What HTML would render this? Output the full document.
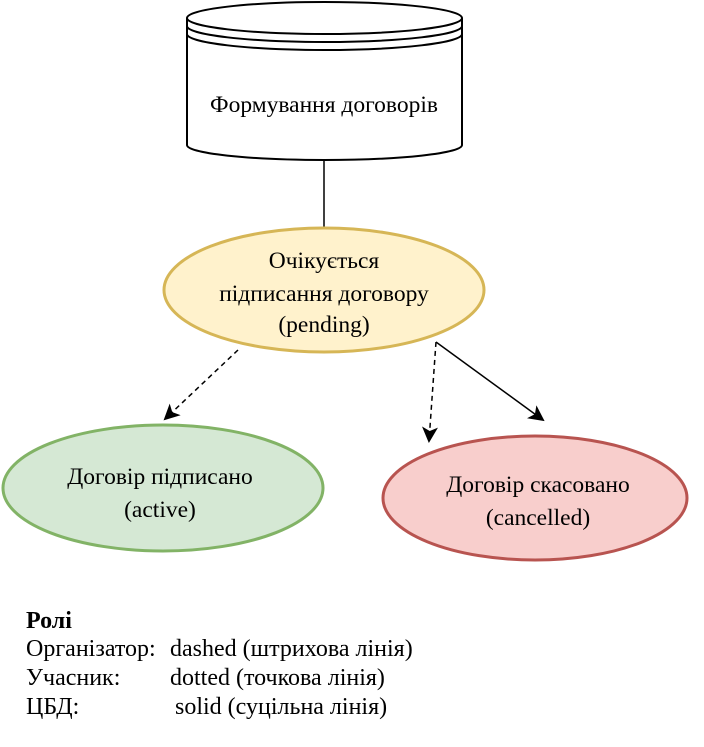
<!DOCTYPE html>
<html><head><meta charset="utf-8"><style>
body{margin:0;background:#fff;}
svg text{font-family:"Liberation Serif",serif;font-size:23.5px;fill:#000;}
svg text.l{font-size:24px;}
</style></head><body>
<svg width="704" height="742" xmlns="http://www.w3.org/2000/svg">
<defs>
<marker id="b" markerWidth="16" markerHeight="16" refX="14" refY="8" orient="auto" markerUnits="userSpaceOnUse"><path d="M0,0 L16,8 L0,16 L4,8 Z" fill="#000"/></marker>
</defs>
<path d="M187,18 L187,145 A137.5,15 0 0 0 462,145 L462,18" fill="#fff" stroke="#000" stroke-width="2"/>
<ellipse cx="324.5" cy="18" rx="137.5" ry="16" fill="#fff" stroke="#000" stroke-width="2"/>
<path d="M187,26 A137.5,16 0 0 0 462,26 M187,34 A137.5,16 0 0 0 462,34" fill="none" stroke="#000" stroke-width="2"/>
<text x="324" y="112" text-anchor="middle">Формування договорів</text>
<line x1="324" y1="161" x2="324" y2="228" stroke="#000" stroke-width="1.5"/>
<ellipse cx="324" cy="290" rx="160" ry="62" fill="#fff2cc" stroke="#d6b656" stroke-width="3"/>
<text x="324" y="268" text-anchor="middle">Очікується</text>
<text x="324" y="301" text-anchor="middle">підписання договору</text>
<text x="324" y="332" text-anchor="middle">(pending)</text>
<ellipse cx="163" cy="488" rx="160" ry="63" fill="#d5e8d4" stroke="#82b366" stroke-width="3"/>
<text x="160" y="484" text-anchor="middle">Договір підписано</text>
<text x="160" y="517" text-anchor="middle">(active)</text>
<ellipse cx="535" cy="498" rx="152" ry="62" fill="#f8cecc" stroke="#b85450" stroke-width="3"/>
<text x="538" y="492" text-anchor="middle">Договір скасовано</text>
<text x="538" y="525" text-anchor="middle">(cancelled)</text>
<line x1="238" y1="350" x2="165" y2="419" stroke="#000" stroke-width="1.5" stroke-dasharray="5,4" marker-end="url(#b)"/>
<line x1="436" y1="342" x2="429" y2="441" stroke="#000" stroke-width="1.5" stroke-dasharray="5,4" marker-end="url(#b)"/>
<line x1="436" y1="342" x2="543" y2="420" stroke="#000" stroke-width="1.5" marker-end="url(#b)"/>
<text class="l" x="26" y="628" style="font-weight:bold">Ролі</text>
<text class="l" x="26" y="656">Організатор:</text><text class="l" x="170" y="656">dashed (штрихова лінія)</text>
<text class="l" x="26" y="685">Учасник:</text><text class="l" x="170" y="685">dotted (точкова лінія)</text>
<text class="l" x="26" y="714">ЦБД:</text><text class="l" x="175" y="714">solid (суцільна лінія)</text>
</svg>
</body></html>
